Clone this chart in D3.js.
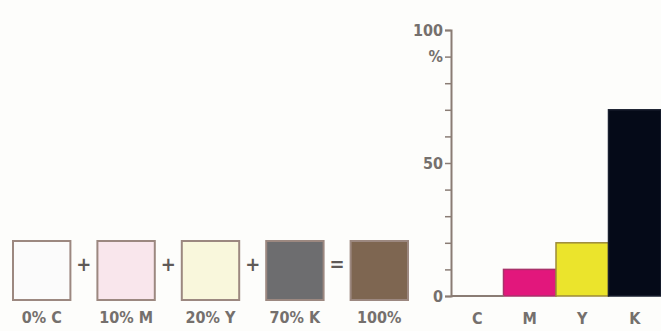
<!DOCTYPE html>
<html>
<head>
<meta charset="utf-8">
<script src="https://cdn.jsdelivr.net/npm/d3@7"></script>
<style>
  body { margin: 0; background: #fdfdfb; }
  text { font-family: "DejaVu Sans Condensed", "DejaVu Sans", sans-serif; font-stretch: condensed; font-weight: bold; fill: #75706d; }
</style>
</head>
<body>
<svg id="chart" width="661" height="331"></svg>
<script>
// bar chart data
const inks = ["C", "M", "Y", "K"];
const inkValues = [0, 10, 20, 70];
const yTicks = [0, 50, 100];

// swatch row
const swatchLabels = ["0% C", "10% M", "20% Y", "70% K", "100%"];
const operators = ["+", "+", "+", "="];

const inkColors = ["#ffffff", "#e2177c", "#ebe42c", "#050a18"];
const inkEdges = ["#8a7a72", "#a8326a", "#9c8a3a", "#1a2030"];
const swatchFills = ["#fbfbfb", "#f9e6ec", "#f9f7dc", "#6d6d6f", "#7e6651"];
const axisColor = "#8a7c74";

const svg = d3.select("#chart");

// ---- bar chart ----
const x = d3.scaleBand()
    .domain(inks)
    .range([451, 661])
    .padding(0);
const y = d3.scaleLinear()
    .domain([0, 100])
    .range([296, 30]);

const bars = inks.map((k, i) => ({ ink: k, value: inkValues[i], i }));

svg.append("g").selectAll("rect")
  .data(bars.filter(d => d.value > 0))
  .join("rect")
    .attr("x", d => x(d.ink))
    .attr("y", d => y(d.value))
    .attr("width", x.bandwidth())
    .attr("height", d => y(0) - y(d.value))
    .attr("fill", d => inkColors[d.i])
    .attr("stroke", d => inkEdges[d.i])
    .attr("stroke-width", 1.5);

// y axis: minor ticks every 10, labels at 0/50/100
const yAxis = svg.append("g")
    .attr("transform", "translate(451,0)")
    .call(d3.axisLeft(y).tickValues(d3.range(0, 101, 10)).tickSize(6).tickFormat(""));
yAxis.select(".domain").attr("stroke", axisColor).attr("stroke-width", 2);
yAxis.selectAll(".tick line").attr("stroke", axisColor).attr("stroke-width", 1.5);

svg.append("g").selectAll("text")
  .data(yTicks)
  .join("text")
    .attr("x", 443)
    .attr("y", d => y(d))
    .attr("dy", "0.35em")
    .attr("text-anchor", "end")
    .attr("font-size", 16)
    .text(d => d);
svg.append("text")
    .attr("x", 443)
    .attr("y", y(90))
    .attr("dy", "0.35em")
    .attr("text-anchor", "end")
    .attr("font-size", 16)
    .text("%");

// baseline along x
svg.append("line")
    .attr("x1", 451).attr("x2", x("M"))
    .attr("y1", y(0)).attr("y2", y(0))
    .attr("stroke", axisColor)
    .attr("stroke-width", 2);

const xAxis = svg.append("g")
    .attr("transform", "translate(0,310)")
    .call(d3.axisBottom(x).tickSize(0));
xAxis.select(".domain").remove();
xAxis.selectAll("text")
    .attr("font-size", 16)
    .attr("dy", "0.71em")
    .style("font-family", "'DejaVu Sans Condensed', 'DejaVu Sans', sans-serif")
    .style("font-stretch", "condensed")
    .style("font-weight", "bold")
    .style("fill", "#75706d");

// ---- swatches ----
const s = d3.scaleBand()
    .domain(swatchLabels)
    .range([13, 408])
    .paddingInner(0.32)
    .paddingOuter(0);
const gap = s.step() - s.bandwidth();

svg.append("g").selectAll("rect")
  .data(swatchLabels)
  .join("rect")
    .attr("x", d => s(d))
    .attr("y", 241)
    .attr("width", s.bandwidth())
    .attr("height", 59)
    .attr("fill", (d, i) => swatchFills[i])
    .attr("stroke", "#9c8880")
    .attr("stroke-width", 2);

svg.append("g").selectAll("text")
  .data(swatchLabels)
  .join("text")
    .attr("x", d => s(d) + s.bandwidth() / 2)
    .attr("y", 323)
    .attr("text-anchor", "middle")
    .attr("font-size", 16)
    .text(d => d);

svg.append("g").selectAll("text")
  .data(operators)
  .join("text")
    .attr("x", (d, i) => s(swatchLabels[i]) + s.bandwidth() + gap / 2)
    .attr("y", 264)
    .attr("dy", "0.35em")
    .attr("text-anchor", "middle")
    .attr("font-size", 20)
    .style("fill", "#5f5a58")
    .text(d => d);
</script>
</body>
</html>
